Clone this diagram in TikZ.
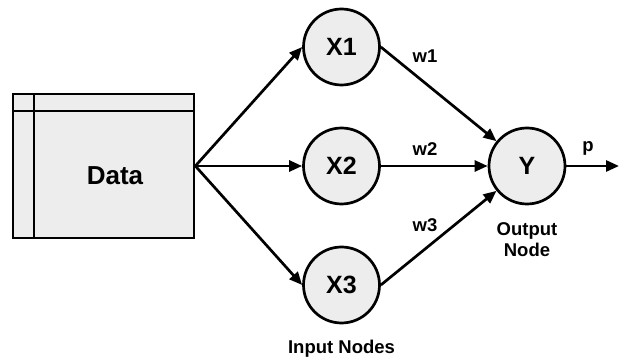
\documentclass[tikz,border=0pt]{standalone}
\usepackage{fontspec}
\setmainfont{Liberation Sans}
\usetikzlibrary{arrows.meta}
\begin{document}
\begin{tikzpicture}[x=1pt,y=-1pt,
  every node/.style={font=\bfseries},
  neuron/.style={circle,draw,line width=2.7pt,fill=black!7,minimum size=76pt,inner sep=0pt,font=\fontsize{25}{29}\selectfont\bfseries},
  databox/.style={rectangle,draw,line width=2.7pt,fill=black!7,minimum width=181pt,minimum height=144pt,inner sep=0pt},
  conn/.style={line width=2.7pt,-{Triangle[length=13pt,width=11pt]}},
  lbl/.style={font=\fontsize{18.5}{21}\selectfont\bfseries,align=center,inner sep=0pt}]
\useasboundingbox (0,0) rectangle (619,358);
\node[databox] (data) at (103.5,166) {};
\draw[line width=2.7pt] (34,93) -- (34,239);
\draw[line width=2.7pt] (12,111) -- (195,111);
\node[font=\fontsize{26}{30}\selectfont\bfseries] (datalbl) at (115,176) {Data};
\node[neuron] (x1) at (341.5,47) {X1};
\node[neuron] (x2) at (341.5,166) {X2};
\node[neuron] (x3) at (341.5,285) {X3};
\node[neuron] (y) at (527,166) {Y};
\coordinate (out) at (619,166);
\draw[conn] (data.east) -- (x1.west);
\draw[conn] (data.east) -- (x2.west);
\draw[conn] (data.east) -- (x3.west);
\draw[conn] (x1.east) -- (y);
\draw[conn] (x2.east) -- (y);
\draw[conn] (x3.east) -- (y);
\draw[conn] (y.east) -- (out);
\node[lbl] (w1) at (425,56) {w1};
\node[lbl] (w2) at (425,149) {w2};
\node[lbl] (w3) at (425,225) {w3};
\node[lbl] (p) at (588,148) {p};
\node[lbl] (outlbl) at (527,240) {Output\\Node};
\node[lbl] (inlbl) at (341.5,349) {Input Nodes};
\end{tikzpicture}
\end{document}
